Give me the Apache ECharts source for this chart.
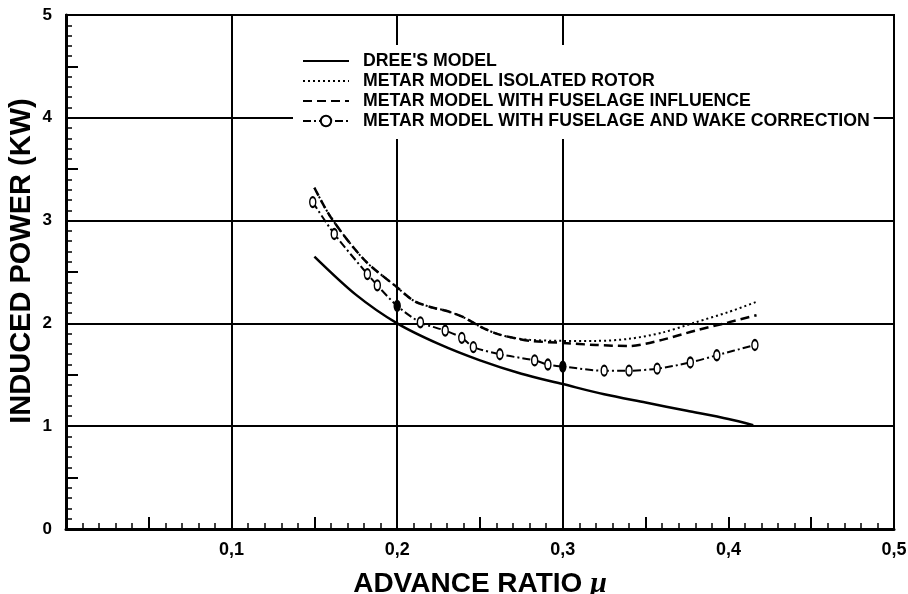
<!DOCTYPE html>
<html><head><meta charset="utf-8">
<script src="https://cdn.jsdelivr.net/npm/echarts@6/dist/echarts.min.js"></script>
<style>html,body{margin:0;padding:0;background:#fff}#c{width:908px;height:594px}</style>
</head><body><div id="c"></div>
<script>
// ---- data ----
const seriesNames = ["DREE'S MODEL", "METAR MODEL ISOLATED ROTOR", "METAR MODEL WITH FUSELAGE INFLUENCE", "METAR MODEL WITH FUSELAGE AND WAKE CORRECTION"];
const dreeMu = [0.15, 0.175, 0.2, 0.225, 0.25, 0.275, 0.3, 0.325, 0.35, 0.375, 0.4, 0.415];
const dreeP  = [2.65, 2.28, 2.0, 1.80, 1.64, 1.51, 1.41, 1.31, 1.23, 1.15, 1.07, 1.01];
const isoMu = [0.15, 0.16, 0.18, 0.2, 0.21, 0.22, 0.23, 0.24, 0.25, 0.26, 0.27, 0.28, 0.3, 0.32, 0.34, 0.36, 0.38, 0.4, 0.417];
const isoP  = [3.32, 3.03, 2.62, 2.35, 2.22, 2.16, 2.12, 2.06, 1.97, 1.90, 1.86, 1.84, 1.83, 1.83, 1.85, 1.91, 2.01, 2.11, 2.21];
const fusMu = [0.15, 0.16, 0.18, 0.2, 0.21, 0.22, 0.23, 0.24, 0.25, 0.26, 0.27, 0.28, 0.3, 0.32, 0.34, 0.36, 0.38, 0.4, 0.417];
const fusP  = [3.32, 3.03, 2.62, 2.35, 2.22, 2.16, 2.12, 2.06, 1.97, 1.90, 1.86, 1.83, 1.81, 1.79, 1.78, 1.84, 1.93, 2.01, 2.08];
const wakeMu = [0.149, 0.162, 0.182, 0.188, 0.2, 0.214, 0.229, 0.239, 0.246, 0.262, 0.283, 0.291, 0.3, 0.325, 0.34, 0.357, 0.377, 0.393, 0.416];
const wakeP  = [3.18, 2.87, 2.48, 2.37, 2.17, 2.01, 1.93, 1.86, 1.77, 1.70, 1.64, 1.60, 1.58, 1.54, 1.54, 1.56, 1.62, 1.69, 1.79];
const xTicks = [0, 0.1, 0.2, 0.3, 0.4, 0.5];
const yTicks = [0, 1, 2, 3, 4, 5];
const xGridLines = [0.1, 0.2, 0.3];
const xAxisTitle = 'ADVANCE RATIO ';
const xAxisSymbol = '\u03bc';
const yAxisTitle = 'INDUCED POWER (KW)';

// ---- chart ----
const zip = (a, b) => a.map((v, i) => [v, b[i]]);
const filledMu = [0.2, 0.3];
const wakeData = wakeMu.map((m, i) => {
  const filled = filledMu.some(f => Math.abs(f - m) < 1e-6);
  return filled ? { value: [m, wakeP[i]], itemStyle: { color: '#000' } } : [m, wakeP[i]];
});
const narrow = 'Liberation Sans Narrow, Liberation Sans, Arial';
const chart = echarts.init(document.getElementById('c'), null, { renderer: 'canvas' });
chart.setOption({
  backgroundColor: '#fff',
  animation: false,
  grid: { left: 66, right: 14, top: 15, bottom: 65, outerBoundsMode: 'none', containLabel: false,
    show: true, borderColor: '#000', borderWidth: 2, backgroundColor: 'transparent' },
  legend: {
    orient: 'vertical', left: 293, top: 45,
    padding: [6, 4, 8, 9],
    backgroundColor: '#fff',
    itemWidth: 46, itemHeight: 13, itemGap: 0,
    textStyle: { fontFamily: 'Liberation Sans, Arial', fontWeight: 'bold', fontSize: 17.7, lineHeight: 20, color: '#000', padding: [0, 0, 0, 9] },
    data: seriesNames.map((n, i) => (i < 3 ? { name: n, itemStyle: { opacity: 0 } } : { name: n })),
    z: 10
  },
  xAxis: [{
    type: 'value', min: xTicks[0], max: xTicks[xTicks.length - 1], interval: 0.1, position: 'bottom',
    axisLine: { show: true, lineStyle: { color: '#000', width: 3 } },
    axisTick: { show: true, inside: true, length: 12, lineStyle: { color: '#000', width: 2 } },
    minorTick: { show: true, splitNumber: 10, length: 6, lineStyle: { color: '#000', width: 1.5 } },
    splitLine: { show: false },
    axisLabel: { margin: 12, fontFamily: narrow, fontWeight: 'bold', fontSize: 18, color: '#000',
      formatter: v => (v === 0 ? '' : v.toFixed(1).replace('.', ',')) },
    name: xAxisTitle + '{m|' + xAxisSymbol + '}', nameLocation: 'middle', nameGap: 40,
    nameTextStyle: { fontFamily: 'Liberation Sans, Arial', fontWeight: 'bold', fontSize: 28, color: '#000',
      rich: { m: { fontFamily: 'Liberation Serif, serif', fontStyle: 'italic', fontWeight: 'bold', fontSize: 30, color: '#000' } } }
  }, {
    type: 'value', min: 0, max: 0.5, interval: 0.05, position: 'bottom',
    axisLine: { show: false }, axisLabel: { show: false }, splitLine: { show: false },
    axisTick: { show: true, inside: true, length: 12, lineStyle: { color: '#000', width: 2 } }
  }],
  yAxis: [{
    type: 'value', min: yTicks[0], max: yTicks[yTicks.length - 1], interval: 1, position: 'left',
    axisLine: { show: true, lineStyle: { color: '#000', width: 3 } },
    axisTick: { show: true, inside: true, length: 12, lineStyle: { color: '#000', width: 2 } },
    minorTick: { show: true, splitNumber: 10, length: 6, lineStyle: { color: '#000', width: 1.5 } },
    splitLine: { show: true, lineStyle: { color: '#000', width: 2 } },
    axisLabel: { margin: 14, fontFamily: narrow, fontWeight: 'bold', fontSize: 17, color: '#000' },
    name: yAxisTitle, nameLocation: 'middle', nameGap: 30, nameRotate: 90, nameMoveOverlap: false,
    nameTextStyle: { fontFamily: 'Liberation Sans, Arial', fontWeight: 'bold', fontSize: 29, color: '#000', padding: [0, 0, 0, 22] }
  }, {
    type: 'value', min: 0, max: 5, interval: 0.5, position: 'left',
    axisLine: { show: false }, axisLabel: { show: false }, splitLine: { show: false },
    axisTick: { show: true, inside: true, length: 12, lineStyle: { color: '#000', width: 2 } }
  }],
  series: [{
    name: seriesNames[0], type: 'line', smooth: 0.3, symbol: 'none',
    data: zip(dreeMu, dreeP),
    lineStyle: { color: '#000', width: 2.5, type: 'solid' }, itemStyle: { color: '#000' },
    markLine: {
      silent: true, symbol: 'none', label: { show: false },
      lineStyle: { color: '#000', width: 2, type: 'solid' },
      data: xGridLines.map(v => ({ xAxis: v })), z: 1
    }
  }, {
    name: seriesNames[1], type: 'line', smooth: 0.3, symbol: 'none',
    data: zip(isoMu, isoP),
    lineStyle: { color: '#000', width: 2, type: [2, 3] }, itemStyle: { color: '#000' }
  }, {
    name: seriesNames[2], type: 'line', smooth: 0.3, symbol: 'none',
    data: zip(fusMu, fusP),
    lineStyle: { color: '#000', width: 2.5, type: [9, 5] }, itemStyle: { color: '#000' }
  }, {
    name: seriesNames[3], type: 'line', smooth: 0.3,
    symbol: 'circle', symbolSize: [6, 10], showSymbol: true,
    data: wakeData,
    lineStyle: { color: '#000', width: 2, type: [8, 3, 2, 3] },
    itemStyle: { color: '#fff', borderColor: '#000', borderWidth: 1.8 }
  }]
});
</script></body></html>
